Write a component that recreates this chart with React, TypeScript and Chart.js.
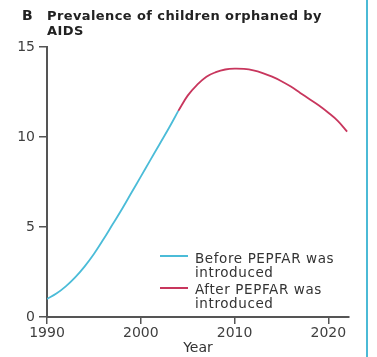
import React, { useEffect, useRef } from "react";
import { Chart, registerables } from "chart.js";

Chart.register(...registerables);

const years = [1990, 1991, 1992, 1993, 1994, 1995, 1996, 1997, 1998, 1999, 2000, 2001, 2002, 2003, 2004, 2005, 2006, 2007, 2008, 2009, 2010, 2011, 2012, 2013, 2014, 2015, 2016, 2017, 2018, 2019, 2020, 2021, 2022];
const prevalence = [1.0, 1.3, 1.7, 2.2, 2.8, 3.5, 4.3, 5.15, 6.0, 6.9, 7.8, 8.7, 9.6, 10.5, 11.45, 12.3, 12.9, 13.35, 13.6, 13.75, 13.8, 13.78, 13.7, 13.55, 13.35, 13.1, 12.8, 12.45, 12.1, 11.75, 11.35, 10.9, 10.3];
const pepfarYear = 2004;
const xTicks = [1990, 2000, 2010, 2020];
const yTicks = [0, 5, 10, 15];
const seriesLabels = ["Before PEPFAR was introduced", "After PEPFAR was introduced"];
const seriesColors = ["#4bbcd8", "#c8365d"];

const beforePts = years.map((y, i) => ({ x: y, y: prevalence[i] })).filter((p) => p.x <= pepfarYear);
const afterPts = years.map((y, i) => ({ x: y, y: prevalence[i] })).filter((p) => p.x >= pepfarYear);

export default function App() {
  const ref = useRef<HTMLCanvasElement | null>(null);

  useEffect(() => {
    if (!ref.current) return;
    const tickFont = { family: "DejaVu Sans", size: 14 };
    const chart = new Chart(ref.current, {
      type: "line",
      data: {
        datasets: [
          { label: seriesLabels[0], data: beforePts, borderColor: seriesColors[0], borderWidth: 1.8, pointRadius: 0, tension: 0.4, fill: false },
          { label: seriesLabels[1], data: afterPts, borderColor: seriesColors[1], borderWidth: 1.8, pointRadius: 0, tension: 0.4, fill: false },
        ],
      },
      options: {
        responsive: false,
        animation: false,
        layout: { padding: { top: 47, right: 28, left: 0, bottom: 0 } },
        plugins: { legend: { display: false }, tooltip: { enabled: false }, title: { display: false } },
        scales: {
          x: {
            type: "linear",
            min: 1990,
            max: 2022.2,
            afterFit: (s: any) => { s.height = 40; },
            afterBuildTicks: (s: any) => { s.ticks = xTicks.map((v) => ({ value: v })); },
            ticks: { font: tickFont, color: "#3f3f3f", padding: 1, maxRotation: 0, callback: (v: any) => String(v) },
            grid: { drawOnChartArea: false, drawTicks: true, tickLength: 7, color: "#555", lineWidth: 1.5 },
            border: { color: "#555", width: 2 },
            title: { display: true, text: "Year", font: { family: "DejaVu Sans", size: 14 }, color: "#333", padding: { top: 4, bottom: 0 } },
          },
          y: {
            min: 0,
            max: 15,
            afterFit: (s: any) => { s.width = 47; },
            afterBuildTicks: (s: any) => { s.ticks = yTicks.map((v) => ({ value: v })); },
            ticks: { font: tickFont, color: "#3f3f3f", padding: 4, callback: (v: any) => String(v) },
            grid: { drawOnChartArea: false, drawTicks: true, tickLength: 8, color: "#555", lineWidth: 1.5 },
            border: { color: "#555", width: 2 },
          },
        },
      },
    });
    return () => chart.destroy();
  }, []);

  const textStyle: React.CSSProperties = { position: "absolute", fontFamily: "DejaVu Sans", fontSize: 13.5, color: "#333", lineHeight: "14px", letterSpacing: "0.6px", whiteSpace: "nowrap" };

  return (
    <div style={{ position: "fixed", left: 0, top: 0, width: 377, height: 357, background: "#fff", overflow: "hidden" }}>
      <canvas ref={ref} width={377} height={357} style={{ position: "absolute", left: 0, top: 0 }} />
      <div style={{ position: "absolute", left: 22, top: 8, fontFamily: "DejaVu Sans", fontWeight: "bold", fontSize: 14, lineHeight: "15px", color: "#222" }}>B</div>
      <div style={{ position: "absolute", left: 47, top: 8, fontFamily: "DejaVu Sans", fontWeight: "bold", fontSize: 13, lineHeight: "15px", letterSpacing: "0.4px", color: "#222", width: 310 }}>
        Prevalence of children orphaned by<br />AIDS
      </div>
      <div style={{ position: "absolute", left: 160, top: 255, width: 28, height: 1.5, background: seriesColors[0] }} />
      <div style={{ ...textStyle, left: 195, top: 251 }}>Before PEPFAR was<br />introduced</div>
      <div style={{ position: "absolute", left: 160, top: 287, width: 28, height: 1.5, background: seriesColors[1] }} />
      <div style={{ ...textStyle, left: 195, top: 282 }}>After PEPFAR was<br />introduced</div>
      <div style={{ position: "absolute", left: 366, top: 0, width: 2, height: 357, background: "#4bbad6" }} />
    </div>
  );
}
